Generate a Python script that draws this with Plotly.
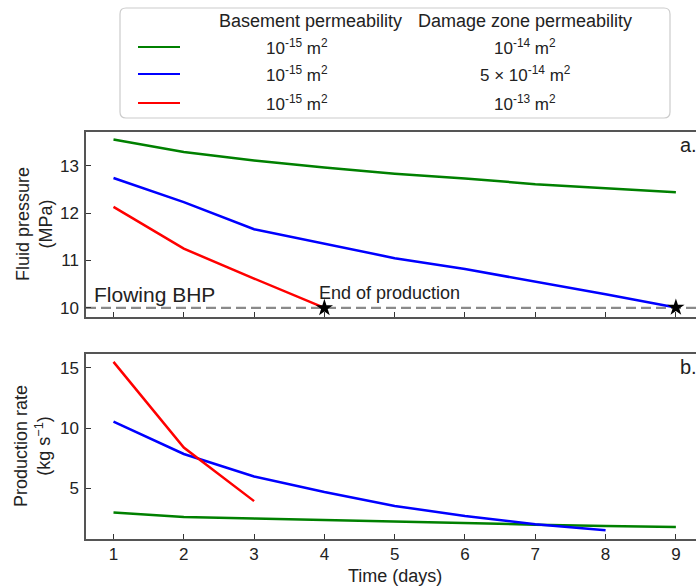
import plotly.graph_objects as go

# ---------------- data ----------------
days = [1, 2, 3, 4, 5, 6, 7, 8, 9]

p_green = [13.55, 13.29, 13.11, 12.96, 12.83, 12.73, 12.61, 12.53, 12.44]
p_blue = [12.74, 12.23, 11.66, 11.35, 11.05, 10.82, 10.56, 10.29, 10.01]
p_red = [12.13, 11.25, 10.62, 10.00]

q_green = [3.0, 2.64, 2.5, 2.36, 2.22, 2.1, 2.0, 1.88, 1.8]
q_blue = [10.55, 7.86, 6.0, 4.7, 3.55, 2.72, 2.03, 1.54]
q_red = [15.5, 8.4, 3.95]

BHP = 10.0

colors = {"green": "#008000", "blue": "#0000ff", "red": "#ff0000"}
basement = ["10<sup>-15</sup> m<sup>2</sup>"] * 3
damage = ["10<sup>-14</sup> m<sup>2</sup>", "5 × 10<sup>-14</sup> m<sup>2</sup>", "10<sup>-13</sup> m<sup>2</sup>"]
series_order = ["green", "blue", "red"]

W, H = 696, 588
ML = 86
PW = W - ML

def px(x):
    return (x - ML) / PW

def py(y):
    return 1 - y / H

FONT = "Liberation Sans, Arial, sans-serif"
AX = "#555555"
TXT = "#222222"

fig = go.Figure()

lw = 2.5
fig.add_trace(go.Scatter(x=days[:len(p_green)], y=p_green, mode="lines",
                         line=dict(color=colors["green"], width=lw), xaxis="x", yaxis="y"))
fig.add_trace(go.Scatter(x=days[:len(p_blue)], y=p_blue, mode="lines",
                         line=dict(color=colors["blue"], width=lw), xaxis="x", yaxis="y"))
fig.add_trace(go.Scatter(x=days[:len(p_red)], y=p_red, mode="lines",
                         line=dict(color=colors["red"], width=lw), xaxis="x", yaxis="y"))
# end-of-production stars
fig.add_trace(go.Scatter(x=[days[len(p_red) - 1], days[len(p_blue) - 1]],
                         y=[p_red[-1], p_blue[-1]], mode="markers",
                         marker=dict(symbol="star", size=13, color="black"),
                         xaxis="x", yaxis="y", cliponaxis=False))

fig.add_trace(go.Scatter(x=days[:len(q_green)], y=q_green, mode="lines",
                         line=dict(color=colors["green"], width=lw), xaxis="x2", yaxis="y2"))
fig.add_trace(go.Scatter(x=days[:len(q_blue)], y=q_blue, mode="lines",
                         line=dict(color=colors["blue"], width=lw), xaxis="x2", yaxis="y2"))
fig.add_trace(go.Scatter(x=days[:len(q_red)], y=q_red, mode="lines",
                         line=dict(color=colors["red"], width=lw), xaxis="x2", yaxis="y2"))

xr = [0.609, 9.286]
top_dom = [py(316.5), py(131.5)]
bot_dom = [py(538.5), py(354.3)]

axis_common = dict(showline=True, linecolor=AX, linewidth=1.5, ticks="inside",
                   ticklen=5, tickwidth=1.2, tickcolor="#333333", showgrid=False,
                   zeroline=False, tickfont=dict(family=FONT, size=17, color=TXT))

fig.update_layout(
    width=W, height=H, margin=dict(l=ML, r=0, t=0, b=0),
    paper_bgcolor="white", plot_bgcolor="white", showlegend=False,
    font=dict(family=FONT, color=TXT),
    xaxis=dict(domain=[0, 1], range=xr, anchor="y", tickvals=days, showticklabels=False,
               mirror=True, **axis_common),
    yaxis=dict(domain=top_dom, range=[9.82, 13.72], anchor="x", tickvals=[10, 11, 12, 13],
               ticklabelstandoff=2, **axis_common),
    xaxis2=dict(domain=[0, 1], range=xr, anchor="y2", tickvals=days, mirror=True,
                ticklabelstandoff=-1, **axis_common),
    yaxis2=dict(domain=bot_dom, range=[0.85, 16.13], anchor="x2", tickvals=[5, 10, 15],
                ticklabelstandoff=2, **axis_common),
)

# flowing BHP dashed line
fig.add_shape(type="line", xref="x domain", yref="y", x0=0, x1=1, y0=BHP, y1=BHP,
              line=dict(color="#8a8a8a", width=2.2, dash="10px,5px"), layer="below")

annots = []
annots.append(dict(text="Flowing BHP", xref="x", yref="y", x=xr[0] + 0.09, y=BHP,
                   xanchor="left", yanchor="bottom", yshift=0, showarrow=False,
                   font=dict(size=21, family=FONT, color=TXT)))
annots.append(dict(text="End of production", xref="x", yref="y", x=days[len(p_red) - 1] - 0.1,
                   y=BHP, xanchor="left", yanchor="bottom", yshift=3, showarrow=False,
                   font=dict(size=18, family=FONT, color=TXT)))
annots.append(dict(text="a.", xref="paper", yref="paper", x=px(678), y=py(145),
                   xanchor="left", yanchor="middle", showarrow=False,
                   font=dict(size=20, family=FONT, color=TXT)))
annots.append(dict(text="b.", xref="paper", yref="paper", x=px(678), y=py(367),
                   xanchor="left", yanchor="middle", showarrow=False,
                   font=dict(size=20, family=FONT, color=TXT)))
# axis titles
annots.append(dict(text="Fluid pressure<br>(MPa)", xref="paper", yref="paper", x=px(34), y=py(224),
                   textangle=-90, showarrow=False, xanchor="center", yanchor="middle",
                   font=dict(size=18, family=FONT, color=TXT)))
annots.append(dict(text="Production rate<br>(kg s<sup>−1</sup>)", xref="paper", yref="paper",
                   x=px(32), y=py(446), textangle=-90, showarrow=False,
                   xanchor="center", yanchor="middle",
                   font=dict(size=18, family=FONT, color=TXT)))
annots.append(dict(text="Time (days)", xref="paper", yref="paper", x=px(395), y=py(576),
                   showarrow=False, xanchor="center", yanchor="middle",
                   font=dict(size=18, family=FONT, color=TXT)))

# legend box (rounded)
x0, x1, y0, y1, r = px(120), px(670), py(118), py(8), 6
rx, ry = r / PW, r / H
path = (f"M {x0+rx} {y1} L {x1-rx} {y1} Q {x1} {y1} {x1} {y1-ry} "
        f"L {x1} {y0+ry} Q {x1} {y0} {x1-rx} {y0} L {x0+rx} {y0} Q {x0} {y0} {x0} {y0+ry} "
        f"L {x0} {y1-ry} Q {x0} {y1} {x0+rx} {y1} Z")
fig.add_shape(type="path", xref="paper", yref="paper", path=path,
              line=dict(color="#cccccc", width=1.2), fillcolor="white", layer="above")
annots.append(dict(text="Basement permeability", xref="paper", yref="paper", x=px(310), y=py(21),
                   showarrow=False, xanchor="center", yanchor="middle",
                   font=dict(size=18, family=FONT, color=TXT)))
annots.append(dict(text="Damage zone permeability", xref="paper", yref="paper", x=px(525), y=py(21),
                   showarrow=False, xanchor="center", yanchor="middle",
                   font=dict(size=18, family=FONT, color=TXT)))
row_y = [47, 74, 103]
for i, key in enumerate(series_order):
    fig.add_shape(type="line", xref="paper", yref="paper", x0=px(138), x1=px(180),
                  y0=py(row_y[i]), y1=py(row_y[i]),
                  line=dict(color=colors[key], width=2), layer="above")
    annots.append(dict(text=basement[i], xref="paper", yref="paper", x=px(297), y=py(row_y[i]),
                       showarrow=False, xanchor="center", yanchor="middle",
                       font=dict(size=17, family=FONT, color=TXT)))
    annots.append(dict(text=damage[i], xref="paper", yref="paper", x=px(525), y=py(row_y[i]),
                       showarrow=False, xanchor="center", yanchor="middle",
                       font=dict(size=17, family=FONT, color=TXT)))

fig.update_layout(annotations=annots)
fig.write_html("out.html")
